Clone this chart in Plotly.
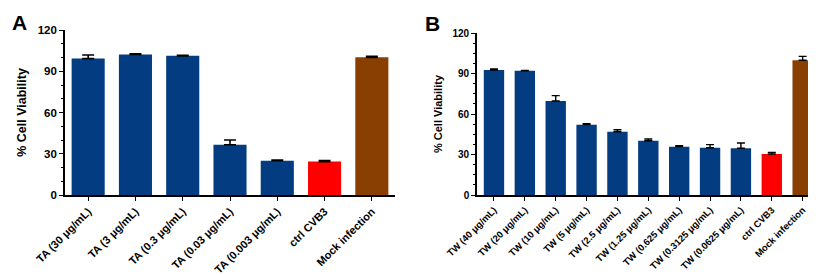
import plotly.graph_objects as go

# Panel A data
cats_a = ["TA (30 μg/mL)", "TA (3 μg/mL)", "TA (0.3 μg/mL)", "TA (0.03 μg/mL)",
          "TA (0.003 μg/mL)", "ctrl CVB3", "Mock infection"]
vals_a = [99.2, 102.2, 101.2, 36.5, 25.0, 24.3, 100.1]
err_a = [2.6, 0.5, 0.4, 3.5, 0.5, 0.7, 0.8]

# Panel B data
cats_b = ["TW (40 μg/mL)", "TW (20 μg/mL)", "TW (10 μg/mL)", "TW (5 μg/mL)",
          "TW (2.5 μg/mL)", "TW (1.25 μg/mL)", "TW (0.625 μg/mL)", "TW (0.3125 μg/mL)",
          "TW (0.0625 μg/mL)", "ctrl CVB3", "Mock infection"]
vals_b = [92.6, 92.0, 69.6, 52.1, 46.9, 40.2, 35.8, 35.0, 34.6, 30.4, 99.8]
err_b = [0.7, 0.3, 4.0, 0.7, 1.4, 1.3, 0.7, 2.3, 3.9, 1.2, 2.9]

NAVY = "#033c80"
RED = "#ff0000"
BROWN = "#8a3f02"

def colors(n):
    return [NAVY] * (n - 2) + [RED, BROWN]

FONT = "Liberation Sans, Arial, sans-serif"

fig = go.Figure()
fig.add_trace(go.Bar(
    x=cats_a, y=vals_a, marker=dict(color=colors(len(cats_a)), line=dict(width=0)),
    width=0.70,
    error_y=dict(type="data", array=err_a, arrayminus=[0] * len(err_a), symmetric=False,
                 color="black", thickness=1.6, width=6),
    xaxis="x", yaxis="y", showlegend=False))
fig.add_trace(go.Bar(
    x=cats_b, y=vals_b, marker=dict(color=colors(len(cats_b)), line=dict(width=0)),
    width=0.66,
    error_y=dict(type="data", array=err_b, arrayminus=[0] * len(err_b), symmetric=False,
                 color="black", thickness=1.4, width=4),
    xaxis="x2", yaxis="y2", showlegend=False))

W, H = 816, 275
def px(x): return x / W
def py(y): return (H - y) / H

axis_common = dict(showline=True, linecolor="black", linewidth=1.6, ticks="outside",
                   tickcolor="black", tickwidth=1.4, showgrid=False, zeroline=False,
                   fixedrange=True, automargin=False)

fig.update_layout(
    width=W, height=H, margin=dict(l=0, r=0, t=0, b=0, autoexpand=False),
    paper_bgcolor="white", plot_bgcolor="white",
    font=dict(family=FONT, color="black"),
    bargap=0.3,
    xaxis=dict(domain=[px(57), px(387)], anchor="y", range=[-0.49, 6.49],
               tickangle=-45, tickfont=dict(size=11, weight="bold", family=FONT),
               ticklen=4, **axis_common),
    yaxis=dict(domain=[py(187), py(22)], anchor="x", range=[0, 120],
               tickvals=[0, 30, 60, 90, 120], ticklen=4,
               tickfont=dict(size=11.5, weight="bold", family=FONT),
               minor=dict(dtick=10, ticklen=2, tickcolor="black", ticks="outside", showgrid=False),
               title=dict(text="% Cell Viability", font=dict(size=12.5, weight="bold", family=FONT),
                          standoff=8),
               **axis_common),
    xaxis2=dict(domain=[px(469), px(807)], anchor="y2", range=[-0.55, 10.4],
                tickangle=-45, tickfont=dict(size=9.5, weight="bold", family=FONT),
                ticklen=4, **axis_common),
    yaxis2=dict(domain=[py(187), py(25)], anchor="x2", range=[0, 120],
                tickvals=[0, 30, 60, 90, 120], ticklen=4,
                tickfont=dict(size=10, weight="bold", family=FONT),
                minor=dict(dtick=7.5, ticklen=2, tickcolor="black", ticks="outside", showgrid=False),
                title=dict(text="% Cell Viability", font=dict(size=11, weight="bold", family=FONT),
                           standoff=8),
                **axis_common),
    annotations=[
        dict(text="<b>A</b>", x=px(2), y=py(1), xref="paper", yref="paper",
             xanchor="left", yanchor="top", showarrow=False,
             font=dict(size=21, family=FONT, color="black")),
        dict(text="<b>B</b>", x=px(415), y=py(2), xref="paper", yref="paper",
             xanchor="left", yanchor="top", showarrow=False,
             font=dict(size=21, family=FONT, color="black")),
    ],
)

fig.write_html("out.html")
